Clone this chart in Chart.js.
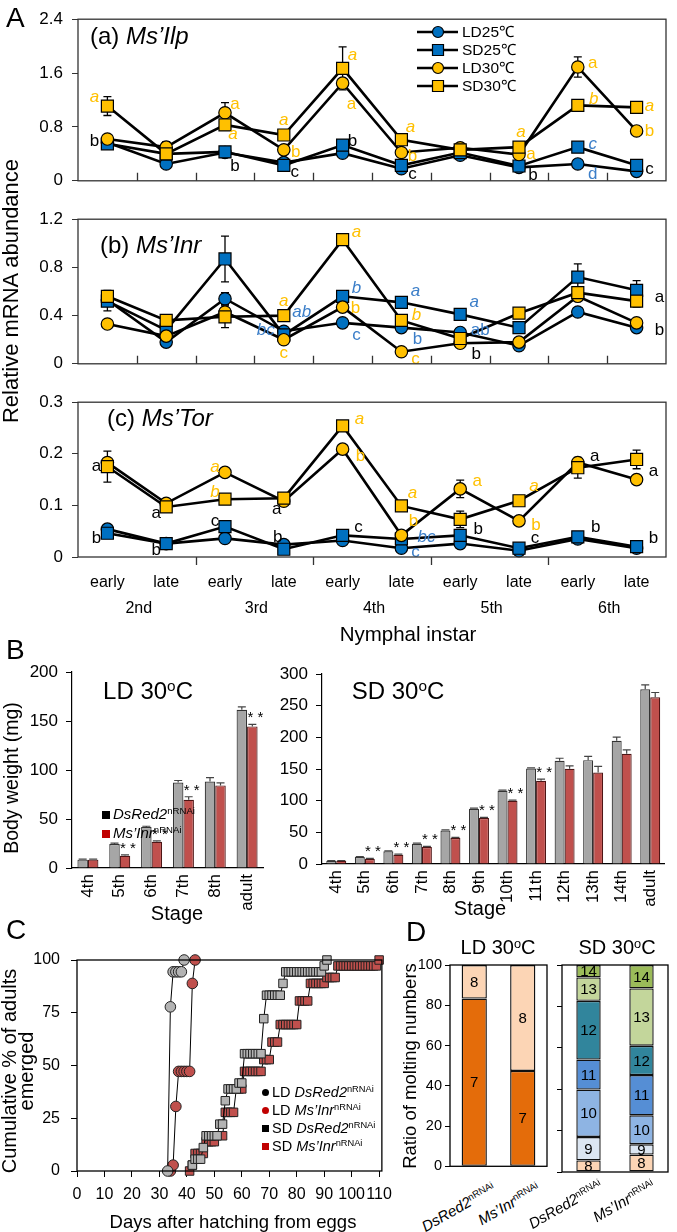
<!DOCTYPE html>
<html>
<head>
<meta charset="utf-8">
<script src="https://cdn.jsdelivr.net/npm/chart.js@4.4.1/dist/chart.umd.min.js"></script>
<style>
  body { margin:0; width:677px; height:1232px; position:relative; overflow:hidden; background:#fff;
         font-family:"Liberation Sans", Arial, sans-serif; color:#000; }
  canvas { position:absolute; }
  .t { position:absolute; white-space:nowrap; line-height:1; }
  .c { transform:translate(-50%,-50%); }
  .r { transform:translate(-50%,-50%) rotate(-90deg); text-align:center; }
  .lab { font-size:28px; }
  .gene { font-size:24px; }
  sup { font-size:0.64em; vertical-align:0.5em; line-height:0; font-style:normal; }
  .d { position:absolute; white-space:nowrap; font-size:15px; line-height:1; transform-origin:right top; transform:rotate(-30deg); }
  .mk { display:inline-block; width:8px; height:8px; margin-right:3px; }
  .cm { display:inline-block; width:7px; height:7px; margin-right:3px; vertical-align:1px; }
</style>
</head>
<body>
<canvas id="ca" width="677" height="200" style="left:0;top:0"></canvas>
<canvas id="cb" width="677" height="183" style="left:0;top:200px"></canvas>
<canvas id="cc" width="677" height="265" style="left:0;top:383px"></canvas>
<canvas id="bw1" width="275" height="275" style="left:0;top:650px"></canvas>
<canvas id="bw2" width="397" height="270" style="left:280px;top:650px"></canvas>
<canvas id="emg" width="400" height="297" style="left:0;top:935px"></canvas>
<canvas id="mld" width="157" height="243" style="left:395px;top:935px"></canvas>
<canvas id="msd" width="125" height="241" style="left:552px;top:935px"></canvas>

<div class="t lab" style="left:6px;top:4px">A</div>
<div class="t gene" style="left:90px;top:24px">(a) <i>Ms’Ilp</i></div>
<div class="t gene" style="left:100px;top:233px">(b) <i>Ms’Inr</i></div>
<div class="t gene" style="left:107px;top:406px">(c) <i>Ms’Tor</i></div>
<div class="t r" style="left:11px;top:291px;font-size:22px">Relative mRNA abundance</div>
<div class="t c" style="left:408px;top:634px;font-size:20.5px">Nymphal instar</div>

<div class="t lab" style="left:6px;top:636px">B</div>
<div class="t c" style="left:148px;top:691px;font-size:24px">LD 30<sup>o</sup>C</div>
<div class="t c" style="left:398px;top:691px;font-size:24px">SD 30<sup>o</sup>C</div>
<div class="t" style="left:102px;top:806px;font-size:15px"><span class="mk" style="background:#000"></span><i>DsRed2</i><sup>nRNAi</sup></div>
<div class="t" style="left:102px;top:825px;font-size:15px"><span class="mk" style="background:#c00000"></span><i>Ms’Inr</i><sup>nRNAi</sup></div>
<div class="t r" style="left:12px;top:778px;font-size:19.5px">Body weight (mg)</div>
<div class="t c" style="left:177px;top:913px;font-size:20px">Stage</div>
<div class="t c" style="left:480px;top:908px;font-size:20px">Stage</div>

<div class="t lab" style="left:6px;top:916px">C</div>
<div class="t r" style="left:18px;top:1071px;font-size:20px;line-height:17px">Cumulative % of adults<br>emerged</div>
<div class="t c" style="left:233px;top:1222px;font-size:18.5px">Days after hatching from eggs</div>
<div class="t" style="left:262px;top:1085px;font-size:14.5px"><span class="cm" style="background:#000;border-radius:50%"></span>LD <i>DsRed2</i><sup>nRNAi</sup></div>
<div class="t" style="left:262px;top:1103px;font-size:14.5px"><span class="cm" style="background:#c00000;border-radius:50%"></span>LD <i>Ms’Inr</i><sup>nRNAi</sup></div>
<div class="t" style="left:262px;top:1121px;font-size:14.5px"><span class="cm" style="background:#000"></span>SD <i>DsRed2</i><sup>nRNAi</sup></div>
<div class="t" style="left:262px;top:1139px;font-size:14.5px"><span class="cm" style="background:#c00000"></span>SD <i>Ms’Inr</i><sup>nRNAi</sup></div>

<div class="t lab" style="left:406px;top:918px">D</div>
<div class="t r" style="left:410px;top:1066px;font-size:18.5px">Ratio of molting numbers</div>
<div class="t c" style="left:498px;top:947px;font-size:20px">LD 30<sup>o</sup>C</div>
<div class="t c" style="left:617px;top:947px;font-size:20px">SD 30<sup>o</sup>C</div>
<div class="d" style="right:187px;top:1180px"><i>DsRed2</i><sup>nRNAi</sup></div>
<div class="d" style="right:142px;top:1180px"><i>Ms’Inr</i><sup>nRNAi</sup></div>
<div class="d" style="right:80px;top:1177px"><i>DsRed2</i><sup>nRNAi</sup></div>
<div class="d" style="right:27px;top:1177px"><i>Ms’Inr</i><sup>nRNAi</sup></div>

<script>
// ---- panel A : expression through nymphal instars ----
const stages = ['early','late','early','late','early','late','early','late','early','late'];
const instars = ['2nd','3rd','4th','5th','6th'];
const seriesNames = ['LD25℃','SD25℃','LD30℃','SD30℃'];

const ilpLD25 = [0.57,0.25,0.42,0.27,0.41,0.18,0.38,0.20,0.25,0.14];
const ilpSD25 = [0.55,0.40,0.43,0.23,0.53,0.23,0.42,0.22,0.50,0.23];
const ilpLD30 = [0.62,0.50,1.01,0.46,1.45,0.42,0.49,0.39,1.69,0.74];
const ilpSD30 = [1.11,0.40,0.83,0.68,1.67,0.61,0.46,0.50,1.12,1.09];
const ilpErrLD30 = [0,0.08,0.15,0,0.05,0,0.06,0,0.15,0];
const ilpErrSD30 = [0.14,0.04,0.04,0,0.32,0,0.06,0.03,0.03,0.05];

const inrLD25 = [0.53,0.18,0.54,0.27,0.34,0.30,0.26,0.15,0.43,0.30];
const inrSD25 = [0.52,0.28,0.87,0.24,0.56,0.51,0.41,0.30,0.72,0.61];
const inrLD30 = [0.33,0.23,0.43,0.20,0.47,0.10,0.17,0.18,0.56,0.34];
const inrSD30 = [0.56,0.36,0.39,0.40,1.03,0.36,0.21,0.42,0.59,0.52];
const inrErrLD25 = [0,0,0.05,0,0,0,0.03,0,0.03,0];
const inrErrSD25 = [0.08,0.03,0.19,0.03,0.04,0,0,0.03,0.11,0.08];
const inrErrSD30 = [0.05,0,0.09,0,0,0,0.04,0.03,0.03,0.05];

const torLD25 = [0.054,0.026,0.036,0.024,0.032,0.017,0.026,0.012,0.035,0.017];
const torSD25 = [0.046,0.026,0.059,0.015,0.042,0.035,0.042,0.017,0.039,0.020];
const torLD30 = [0.183,0.104,0.164,0.108,0.209,0.042,0.132,0.070,0.183,0.150];
const torSD30 = [0.175,0.097,0.112,0.114,0.254,0.099,0.073,0.109,0.173,0.189];
const torErrLD30 = [0.005,0,0,0,0,0.006,0.017,0,0,0];
const torErrSD30 = [0.03,0,0,0,0.005,0,0.016,0,0.02,0.018];

// significance letters: [point, dx, value, text, colour, italic]
const notesIlp = [
  [0,-13,1.24,'a','y',1],[0,-13,0.58,'b','k',0],
  [2,10,1.14,'a','y',0],[2,8,0.69,'a','y',1],[2,10,0.21,'b','k',0],
  [3,0,0.90,'a','y',1],[3,12,0.43,'b','y',0],[3,11,0.12,'c','k',0],
  [4,10,1.86,'a','y',1],[4,9,1.14,'a','y',0],[4,10,0.59,'b','k',0],
  [5,9,0.79,'a','y',1],[5,11,0.36,'b','y',0],[5,11,0.09,'c','k',0],
  [7,2,0.72,'a','y',1],[7,12,0.39,'a','y',0],[7,14,0.08,'b','k',0],
  [8,15,1.74,'a','y',0],[8,16,1.21,'b','y',1],[8,15,0.55,'c','b',1],[8,15,0.10,'d','b',0],
  [9,13,1.10,'a','y',1],[9,13,0.73,'b','y',0],[9,13,0.17,'c','k',0]
];
const notesInr = [
  [3,0,0.52,'a','y',1],[3,18,0.43,'ab','b',1],[3,-18,0.28,'bc','b',1],[3,0,0.09,'c','y',0],
  [4,14,1.09,'a','y',1],[4,14,0.63,'b','b',1],[4,13,0.46,'b','y',0],[4,14,0.24,'c','b',0],
  [5,14,0.60,'a','b',1],[5,15,0.40,'b','y',1],[5,16,0.20,'b','b',0],[5,14,0.04,'c','y',0],
  [6,14,0.51,'a','b',1],[6,20,0.28,'ab','b',0],[6,16,0.08,'b','k',0],
  [9,23,0.55,'a','k',0],[9,23,0.28,'b','k',0]
];
const notesTor = [
  [0,-11,0.175,'a','k',0],[0,-11,0.036,'b','k',0],
  [1,-10,0.084,'a','k',0],[1,-10,0.012,'b','k',0],
  [2,-10,0.173,'a','y',1],[2,-10,0.126,'b','y',1],[2,-10,0.070,'c','k',0],
  [3,-7,0.092,'a','k',0],[3,-6,0.039,'b','k',0],
  [4,17,0.267,'a','y',1],[4,18,0.195,'b','y',0],[4,16,0.057,'c','k',0],
  [5,11,0.123,'a','y',1],[5,12,0.070,'b','y',0],[5,25,0.039,'bc','b',1],[5,14,0.009,'c','b',0],
  [6,17,0.146,'a','y',0],[6,18,0.053,'b','k',0],
  [7,15,0.137,'a','y',1],[7,17,0.062,'b','y',0],[7,16,0.036,'c','k',0],
  [8,17,0.195,'a','k',0],[8,18,0.057,'b','k',0],
  [9,17,0.167,'a','k',0],[9,17,0.037,'b','k',0]
];

// ---- panel B : body weight ----
const ldStages = ['4th','5th','6th','7th','8th','adult'];
const ldDsRed = [8.5,24.5,41.8,87.3,88.3,161.5];
const ldDsRedErr = [0.5,0.8,0.8,2,4,3];
const ldInr = [8.5,12.5,26.8,69.7,84.3,144.5];
const ldInrErr = [0.5,0.8,0.8,3,2.5,2];
const ldSig = [false,true,true,true,false,true];

const sdStages = ['4th','5th','6th','7th','8th','9th','10th','11th','12th','13th','14th','adult'];
const sdDsRed = [5,11,20,32,53,87.2,115.6,150.8,163,164,194.5,276];
const sdDsRedErr = [0.5,0.8,0.8,1,1,1,1,1,4,5.8,5.8,6.8];
const sdInr = [5,8,14.7,26.8,41,72.5,99.8,131.4,150.3,144.5,174,263.4];
const sdInrErr = [0.5,0.8,0.8,1,1,1,1,2.6,4.7,9.5,6.3,7.4];
const sdSig = [false,true,true,true,true,true,true,true,false,false,false,false];

// ---- panel C : adult emergence ----
const dayTicks = [0,10,20,30,40,50,60,70,80,90,100,110];
const ldDsRedDays = [33,34,35,36,37,38,39];
const ldDsRedPct  = [0,77.8,94.4,94.4,94.4,94.4,100];
const ldInrDays = [34,35,36,37,38,39,40,41,42,43];
const ldInrPct  = [0,2.8,30.6,47.2,47.2,47.2,47.2,47.2,88.9,100];
const sdDsRedDays = [42,43,44,45,46,47,48,49,50,51,52,53,54,55,56,57,58,59,60,61,62,63,64,65,66,67,68,69,70,71,72,73,74,75,76,77,78,79,80,81,82,83,84,85,86,87,88,89,90,91];
const sdDsRedPct  = [2.8,5.6,5.6,5.6,11.1,16.7,16.7,16.7,16.7,16.7,22.2,22.2,33.3,38.9,38.9,38.9,38.9,41.7,41.7,55.6,55.6,55.6,55.6,55.6,55.6,55.6,72.2,83.3,83.3,83.3,83.3,83.3,83.3,88.9,94.4,94.4,94.4,94.4,94.4,94.4,94.4,94.4,94.4,94.4,94.4,94.4,94.4,94.4,97.2,100];
const sdInrDays = [41,42,43,44,45,46,47,48,49,50,53,54,55,56,57,58,59,60,61,62,63,64,65,66,67,68,69,70,71,72,73,74,75,76,77,78,79,80,81,82,83,84,85,86,87,88,89,90,91,92,93,94,95,96,97,98,99,100,101,102,103,104,105,106,107,108,109,110];
const sdInrPct  = [0,2.8,8.3,8.3,8.3,8.3,13.9,13.9,13.9,13.9,16.7,27.8,27.8,27.8,27.8,38.9,38.9,38.9,47.2,47.2,47.2,47.2,47.2,47.2,47.2,52.8,52.8,52.8,61.1,61.1,61.1,69.4,69.4,69.4,69.4,69.4,69.4,69.4,80.6,80.6,80.6,80.6,88.9,88.9,88.9,88.9,88.9,88.9,91.7,91.7,91.7,91.7,97.2,97.2,97.2,97.2,97.2,97.2,97.2,97.2,97.2,97.2,97.2,97.2,97.2,97.2,97.2,100];

// ---- panel D : number of moults ----
const moltGroups = ['DsRed2', 'Ms’Inr'];
const ld7 = [83.3,47.4];
const ld8 = [16.7,52.6];
const sd8 = [5.6,8.4];
const sd9 = [11.3,5.0];
const sd10 = [22.9,14.0];
const sd11 = [14.5,19.4];
const sd12 = [28.4,14.2];
const sd13 = [11.3,27.7];
const sd14 = [6.0,11.3];

Chart.defaults.font.family = "'Liberation Sans', Arial, sans-serif";
Chart.defaults.color = '#000';
Chart.defaults.animation = false;
Chart.defaults.plugins.legend.display = false;
Chart.defaults.plugins.tooltip.enabled = false;

const BLUE = '#0070c0', YELLOW = '#ffc000';
const TXT = { k:'#000', y:'#ffc000', b:'#3b7ec8' };
const FONT = "'Liberation Sans', Arial, sans-serif";

const errA = {
  id:'errA',
  beforeDatasetsDraw(chart) {
    const ctx = chart.ctx, ys = chart.scales.y;
    chart.data.datasets.forEach((d, i) => {
      if (!d.errs) return;
      const meta = chart.getDatasetMeta(i);
      d.errs.forEach((e, j) => {
        if (!e) return;
        const x = meta.data[j].x;
        const y1 = ys.getPixelForValue(d.data[j] + e), y2 = ys.getPixelForValue(d.data[j] - e);
        ctx.save();
        ctx.strokeStyle = '#000'; ctx.lineWidth = 1.3;
        ctx.beginPath();
        ctx.moveTo(x, y1); ctx.lineTo(x, y2);
        ctx.moveTo(x - 4, y1); ctx.lineTo(x + 4, y1);
        ctx.moveTo(x - 4, y2); ctx.lineTo(x + 4, y2);
        ctx.stroke();
        ctx.restore();
      });
    });
  }
};

function frameA(mode) {
  return {
    id:'frameA',
    afterDraw(chart) {
      const ctx = chart.ctx, a = chart.chartArea, xs = chart.scales.x;
      ctx.save();
      ctx.strokeStyle = '#333'; ctx.lineWidth = 1.3;
      ctx.strokeRect(a.left, a.top, a.right - a.left, a.bottom - a.top);
      ctx.beginPath();
      for (let i = 1; i < stages.length; i++) {
        const x = Math.round((xs.getPixelForValue(i - 1) + xs.getPixelForValue(i)) / 2) + 0.5;
        if (mode === 'every') { ctx.moveTo(x, a.bottom); ctx.lineTo(x, a.bottom - 8); }
        else if (i % 2 === 0) { ctx.moveTo(x, a.bottom); ctx.lineTo(x, a.bottom + 8); }
      }
      ctx.stroke();
      ctx.restore();
    }
  };
}

function notePlugin(notes) {
  return {
    id:'notes',
    afterDatasetsDraw(chart) {
      const ctx = chart.ctx, xs = chart.scales.x, ys = chart.scales.y;
      ctx.save();
      ctx.textAlign = 'center'; ctx.textBaseline = 'middle';
      notes.forEach(n => {
        ctx.font = (n[5] ? 'italic ' : '') + '17px ' + FONT;
        ctx.fillStyle = TXT[n[4]];
        ctx.fillText(n[3], xs.getPixelForValue(n[0]) + n[1], ys.getPixelForValue(n[2]));
      });
      ctx.restore();
    }
  };
}

const legendA = {
  id:'legendA',
  afterDraw(chart) {
    const ctx = chart.ctx;
    const looks = [['circle', BLUE], ['rect', BLUE], ['circle', YELLOW], ['rect', YELLOW]];
    ctx.save();
    seriesNames.forEach((name, i) => {
      const y = 32 + i * 18;
      ctx.strokeStyle = '#000'; ctx.lineWidth = 2.6;
      ctx.beginPath(); ctx.moveTo(417, y); ctx.lineTo(458, y); ctx.stroke();
      ctx.fillStyle = looks[i][1]; ctx.lineWidth = 1.2;
      ctx.beginPath();
      if (looks[i][0] === 'circle') ctx.arc(438, y, 5.5, 0, Math.PI * 2);
      else ctx.rect(432.5, y - 5.5, 11, 11);
      ctx.fill(); ctx.stroke();
      ctx.fillStyle = '#000'; ctx.font = '15.5px ' + FONT;
      ctx.textAlign = 'left'; ctx.textBaseline = 'middle';
      ctx.fillText(name, 462, y + 1);
    });
    ctx.restore();
  }
};

const instarLabels = {
  id:'instar',
  afterDraw(chart) {
    const ctx = chart.ctx, xs = chart.scales.x;
    ctx.save();
    ctx.font = '16px ' + FONT; ctx.fillStyle = '#000';
    ctx.textAlign = 'center'; ctx.textBaseline = 'middle';
    instars.forEach((s, k) => {
      const x = (xs.getPixelForValue(2 * k) + xs.getPixelForValue(2 * k + 1)) / 2 + 2;
      ctx.fillText(s, x, 609 - 383);
    });
    ctx.restore();
  }
};

function lineSet(vals, errs, color, shape) {
  return {
    data: vals, errs: errs, borderColor:'#000', borderWidth:2.6,
    pointStyle: shape, pointRadius: shape === 'rect' ? 8.5 : 6.2,
    pointBackgroundColor: color, pointBorderColor:'#000', pointBorderWidth:1.2,
    tension:0, clip:false
  };
}

function stageChart(id, sets, yMax, yStep, padTop, notes, tickMode, showX, extra) {
  return new Chart(document.getElementById(id), {
    type:'line',
    data:{ labels: stages, datasets: sets },
    options:{
      responsive:false, devicePixelRatio:1,
      layout:{ padding:{ left:0, right:11, top:padTop, bottom: showX ? 0 : 10 } },
      scales:{
        x:{ display: showX, offset:true, grid:{ display:false, drawTicks:false }, border:{ display:false },
            ticks:{ font:{ size:16 }, padding:16, maxRotation:0, autoSkip:false },
            afterFit: s => { s.height = showX ? 91 : 0; } },
        y:{ min:0, max:yMax, border:{ display:false },
            grid:{ drawOnChartArea:false, tickLength:6, color:'#333' },
            ticks:{ stepSize:yStep, font:{ size:17 }, padding:9 },
            afterFit: s => { s.width = 78; } }
      }
    },
    plugins:[errA, frameA(tickMode), notePlugin(notes)].concat(extra)
  });
}

// dataset order: first one is drawn on top
stageChart('ca', [
  lineSet(ilpSD30, ilpErrSD30, YELLOW, 'rect'),
  lineSet(ilpLD30, ilpErrLD30, YELLOW, 'circle'),
  lineSet(ilpSD25, null, BLUE, 'rect'),
  lineSet(ilpLD25, null, BLUE, 'circle')
], 2.4, 0.8, 14, notesIlp, 'every', false, [legendA]);

stageChart('cb', [
  lineSet(inrSD30, inrErrSD30, YELLOW, 'rect'),
  lineSet(inrLD30, null, YELLOW, 'circle'),
  lineSet(inrSD25, inrErrSD25, BLUE, 'rect'),
  lineSet(inrLD25, inrErrLD25, BLUE, 'circle')
], 1.2, 0.4, 19, notesInr, 'every', false, []);

stageChart('cc', [
  lineSet(torSD30, torErrSD30, YELLOW, 'rect'),
  lineSet(torLD30, torErrLD30, YELLOW, 'circle'),
  lineSet(torSD25, null, BLUE, 'rect'),
  lineSet(torLD25, null, BLUE, 'circle')
], 0.3, 0.1, 14, notesTor, 'instar', true, [instarLabels]);

// ---- B ----
const barErr = {
  id:'barErr',
  afterDatasetsDraw(chart) {
    const ctx = chart.ctx, ys = chart.scales.y;
    chart.data.datasets.forEach((d, i) => {
      const meta = chart.getDatasetMeta(i);
      meta.data.forEach((el, j) => {
        const yTop = ys.getPixelForValue(d.data[j] + d.errs[j]);
        ctx.save();
        ctx.strokeStyle = '#444'; ctx.lineWidth = 1.2;
        ctx.beginPath();
        ctx.moveTo(el.x, el.y); ctx.lineTo(el.x, yTop);
        ctx.moveTo(el.x - 4, yTop); ctx.lineTo(el.x + 4, yTop);
        ctx.stroke();
        if (d.sig && d.sig[j]) {
          ctx.fillStyle = '#000'; ctx.font = '15px ' + FONT;
          ctx.textAlign = 'center'; ctx.textBaseline = 'alphabetic';
          ctx.fillText('* *', el.x + 3, yTop - 2);
        }
        ctx.restore();
      });
    });
  }
};

function weightChart(id, labels, g, gErr, r, rErr, sig, yMax, yW, pad, xH, cat) {
  return new Chart(document.getElementById(id), {
    type:'bar',
    data:{ labels: labels, datasets:[
      { data:g, errs:gErr, backgroundColor:'#a6a6a6', borderColor:'#333', borderWidth:1.2, borderSkipped:'start',
        categoryPercentage:cat, barPercentage:1 },
      { data:r, errs:rErr, sig:sig, backgroundColor:'#c0504d', borderColor:'#4d1515', borderWidth:1.2, borderSkipped:'start',
        categoryPercentage:cat, barPercentage:1 }
    ]},
    options:{
      responsive:false, devicePixelRatio:1,
      layout:{ padding:pad },
      scales:{
        x:{ grid:{ display:false, drawTicks:false }, border:{ color:'#000', width:1.2 },
            ticks:{ minRotation:90, maxRotation:90, padding:6, font:{ size:17 }, autoSkip:false },
            afterFit: s => { s.height = xH; } },
        y:{ min:0, max:yMax, border:{ color:'#000', width:1.2 },
            grid:{ drawOnChartArea:false, tickLength:6, color:'#000' },
            ticks:{ stepSize:50, padding:8, font:{ size:17 } },
            afterFit: s => { s.width = yW; } }
      }
    },
    plugins:[barErr]
  });
}

weightChart('bw1', ldStages, ldDsRed, ldDsRedErr, ldInr, ldInrErr, ldSig, 200, 72,
  { left:0, right:12, top:22, bottom:0 }, 57, 0.66);
weightChart('bw2', sdStages, sdDsRed, sdDsRedErr, sdInr, sdInrErr, sdSig, 300, 42,
  { left:0, right:9, top:24, bottom:0 }, 56, 0.70);

// ---- C ----
function pts(days, pct) { return days.map((d, i) => ({ x:d, y:pct[i] })); }
function emSet(days, pct, fill, shape) {
  return {
    data: pts(days, pct), showLine:true, borderColor:'#000', borderWidth:1,
    pointStyle: shape, pointRadius: shape === 'rect' ? 6 : 5.3,
    pointBackgroundColor: fill, pointBorderColor:'#222', pointBorderWidth:1, clip:false
  };
}
const boxPlugin = {
  id:'box',
  afterDraw(chart) {
    const a = chart.chartArea, ctx = chart.ctx;
    ctx.save(); ctx.strokeStyle = '#000'; ctx.lineWidth = 1.3;
    ctx.strokeRect(a.left, a.top, a.right - a.left, a.bottom - a.top);
    ctx.restore();
  }
};
new Chart(document.getElementById('emg'), {
  type:'scatter',
  data:{ datasets:[
    emSet(ldDsRedDays, ldDsRedPct, '#b3b3b3', 'circle'),
    emSet(ldInrDays, ldInrPct, '#c0504d', 'circle'),
    emSet(sdDsRedDays, sdDsRedPct, '#b3b3b3', 'rect'),
    emSet(sdInrDays, sdInrPct, '#c0504d', 'rect')
  ]},
  options:{
    responsive:false, devicePixelRatio:1,
    layout:{ padding:{ left:0, right:14, top:25, bottom:0 } },
    scales:{
      x:{ type:'linear', min:0, max:111, border:{ display:false },
          grid:{ drawOnChartArea:false, tickLength:6, color:'#000' },
          ticks:{ padding:8, font:{ size:16 }, maxRotation:0, autoSkip:false },
          afterBuildTicks: s => { s.ticks = dayTicks.map(v => ({ value:v })); },
          afterFit: s => { s.height = 61; } },
      y:{ min:0, max:100, border:{ display:false },
          grid:{ drawOnChartArea:false, tickLength:6, color:'#000' },
          ticks:{ stepSize:25, padding:11, font:{ size:16 } },
          afterFit: s => { s.width = 77; } }
    }
  },
  plugins:[boxPlugin]
});

// ---- D ----
const MOLT = { 7:'#e46c0a', 8:'#fcd5b5', 9:'#dce6f2', 10:'#8eb4e3', 11:'#558ed5', 12:'#31859c', 13:'#c3d69b', 14:'#9bbb59' };
const segLabels = {
  id:'segLabels',
  afterDatasetsDraw(chart) {
    const ctx = chart.ctx;
    ctx.save();
    ctx.font = '15px ' + FONT; ctx.fillStyle = '#000';
    ctx.textAlign = 'center'; ctx.textBaseline = 'middle';
    chart.data.datasets.forEach((d, i) => {
      chart.getDatasetMeta(i).data.forEach(el => {
        ctx.fillText(d.label, el.x, (el.y + el.base) / 2 + 1);
      });
    });
    ctx.restore();
  }
};
function moltSet(n, vals, barPct) {
  return { label:String(n), data:vals, backgroundColor:MOLT[n], borderColor:'#111', borderWidth:1.4,
           borderSkipped:false, barPercentage:barPct, categoryPercentage:1 };
}
function moltChart(id, sets, showY, yW, pad) {
  return new Chart(document.getElementById(id), {
    type:'bar',
    data:{ labels: moltGroups, datasets: sets },
    options:{
      responsive:false, devicePixelRatio:1,
      layout:{ padding:pad },
      scales:{
        x:{ display:false, stacked:true },
        y:{ stacked:true, min:0, max:100, border:{ display:false },
            grid:{ drawOnChartArea:false, tickLength:5, color:'#000' },
            ticks:{ display:showY, stepSize:20, padding:3, font:{ size:14.5 } },
            afterFit: s => { s.width = yW; } }
      }
    },
    plugins:[segLabels, boxPlugin]
  });
}
moltChart('mld', [moltSet(7, ld7, 0.52), moltSet(8, ld8, 0.52)], true, 55,
  { left:0, right:5, top:30, bottom:4 });
moltChart('msd', [moltSet(8, sd8, 0.46), moltSet(9, sd9, 0.46), moltSet(10, sd10, 0.46), moltSet(11, sd11, 0.46),
                  moltSet(12, sd12, 0.46), moltSet(13, sd13, 0.46), moltSet(14, sd14, 0.46)], false, 10,
  { left:0, right:9, top:30, bottom:4 });
</script>
</body>
</html>
